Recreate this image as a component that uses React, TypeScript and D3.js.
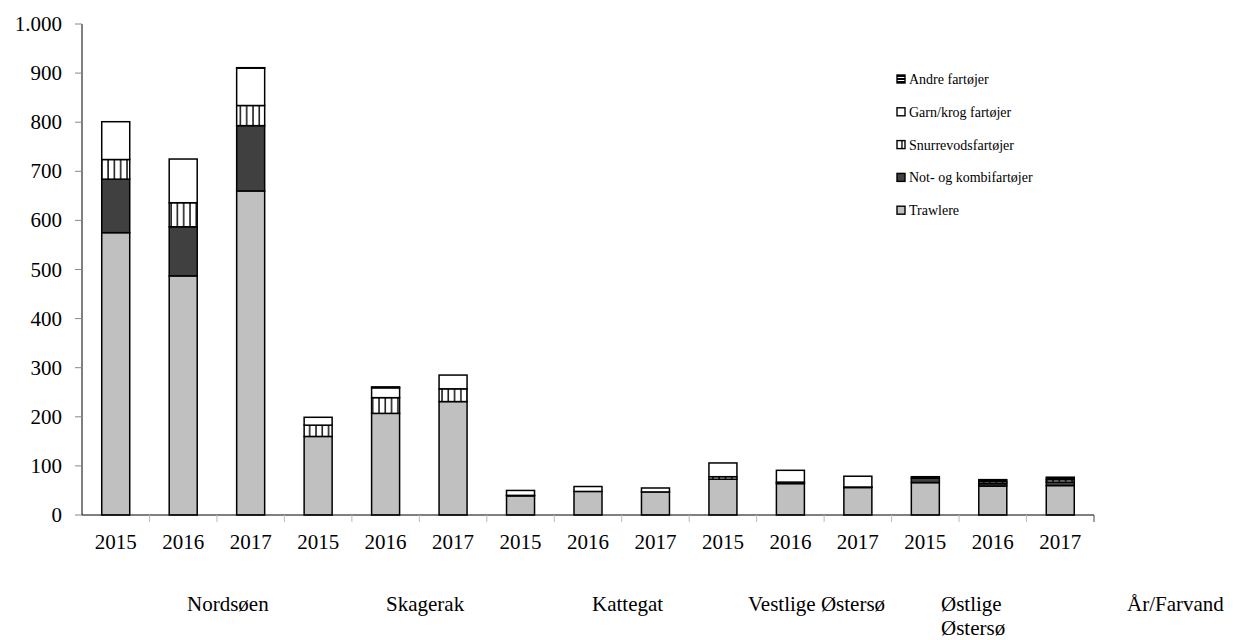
import React from 'react';
import * as d3 from 'd3';

const years = ['2015', '2016', '2017', '2015', '2016', '2017', '2015', '2016', '2017', '2015', '2016', '2017', '2015', '2016', '2017'];
const regions = ['Nordsøen', 'Skagerak', 'Kattegat', 'Vestlige Østersø', 'Østlige Østersø'];

const trawlere = [575, 487, 660, 160, 207, 231, 39, 48, 47, 73, 64, 56, 66, 59, 60];
const notKombi = [109, 100, 133, 0, 0, 0, 0, 0, 0, 0, 3, 1, 9, 5, 7];
const snurrevod = [40, 49, 41, 23, 32, 26, 1, 0, 0, 5, 0, 0, 0, 4, 5];
const garnKrog = [77, 89, 76, 16, 20, 28, 10, 10, 8, 28, 24, 22, 0, 0, 0];
const andre = [0, 0, 1, 0, 2, 0, 0, 0, 0, 0, 0, 0, 3, 4, 5];

const seriesNames = ['Trawlere', 'Not- og kombifartøjer', 'Snurrevodsfartøjer', 'Garn/krog fartøjer', 'Andre fartøjer'];
const yTicks = [0, 100, 200, 300, 400, 500, 600, 700, 800, 900, 1000];

const W = 1235;
const H = 640;
const FONT = "'Liberation Serif', 'Times New Roman', Times, serif";

const fills = ['#c0c0c0', '#404040', 'url(#pat-snurre)', '#ffffff', 'url(#pat-andre)'];

// layout of the region labels below the axis (left edges, px)
const regionLabelX = [187, 386, 592, 748, 941];

export default function App() {
  const x0 = 82;
  const x1 = 1094;
  const y = d3.scaleLinear().domain([0, 1000]).range([515, 24]);
  const idx = years.map((_, i) => i);
  const x = d3.scaleBand<number>()
    .domain(idx)
    .range([x0, x1])
    .paddingInner(0.585)
    .paddingOuter(0.2925);
  const step = (x1 - x0) / years.length;

  const table = idx.map((i) => ({
    i,
    s0: trawlere[i],
    s1: notKombi[i],
    s2: snurrevod[i],
    s3: garnKrog[i],
    s4: andre[i],
  }));
  const stack = d3.stack<any>().keys(['s0', 's1', 's2', 's3', 's4']);
  const layers = stack(table);

  const legendOrder = [4, 3, 2, 1, 0];
  const txt: React.CSSProperties = { fontFamily: FONT };

  return (
    <svg width={W} height={H} style={{ position: 'absolute', left: 0, top: 0, background: '#fff', fontFamily: FONT }}>
      <defs>
        <pattern id="pat-snurre" patternUnits="userSpaceOnUse" width={6.3} height={10}>
          <rect width={6.3} height={10} fill="#fff" />
          <line x1={1} x2={1} y1={0} y2={10} stroke="#000" strokeWidth={1.4} />
        </pattern>
        <pattern id="pat-andre" patternUnits="userSpaceOnUse" width={10} height={3}>
          <rect width={10} height={3} fill="#fff" />
          <rect width={10} height={2} fill="#000" />
        </pattern>
      </defs>

      {/* bars */}
      {layers.map((layer, li) => (
        <g key={li}>
          {layer.map((d, j) => {
            const h = y(d[0]) - y(d[1]);
            if (h <= 0) return null;
            return (
              <rect key={j} x={x(j)} y={y(d[1])} width={x.bandwidth()} height={h}
                fill={fills[li]} stroke="#000" strokeWidth={1.5} />
            );
          })}
        </g>
      ))}

      {/* y axis */}
      <line x1={x0} x2={x0} y1={y(1000)} y2={y(0)} stroke="#000" strokeWidth={1} />
      {yTicks.map((t) => (
        <g key={t}>
          <line x1={x0 - 7} x2={x0} y1={y(t)} y2={y(t)} stroke="#888" strokeWidth={1} />
          <text x={62} y={y(t) + 7} textAnchor="end" fontSize={21} fill="#000" style={txt}>
            {d3.format(',')(t).replace(',', '.')}
          </text>
        </g>
      ))}

      {/* x axis */}
      <line x1={x0} x2={x1} y1={y(0)} y2={y(0)} stroke="#000" strokeWidth={1} />
      {d3.range(1, years.length + 1).map((k) => (
        <line key={k} x1={x0 + k * step} x2={x0 + k * step} y1={y(0)} y2={y(0) + 7}
          stroke={k === years.length ? '#444' : '#bbb'} strokeWidth={1} />
      ))}
      {years.map((yr, i) => (
        <text key={i} x={(x(i) as number) + x.bandwidth() / 2} y={549} textAnchor="middle" fontSize={21} style={txt}>
          {yr}
        </text>
      ))}

      {/* region labels */}
      {regions.map((r, i) => {
        if (r === 'Østlige Østersø') {
          return (
            <text key={r} x={regionLabelX[i]} y={611} fontSize={21} style={txt}>
              <tspan x={regionLabelX[i]}>Østlige</tspan>
              <tspan x={regionLabelX[i]} dy={24}>Østersø</tspan>
            </text>
          );
        }
        return (
          <text key={r} x={regionLabelX[i]} y={611} fontSize={21} style={txt}>{r}</text>
        );
      })}
      <text x={1127} y={611} fontSize={21} style={txt}>År/Farvand</text>

      {/* legend */}
      {legendOrder.map((si, k) => {
        const cy = 79 + k * 32.8;
        return (
          <g key={si}>
            <rect x={897} y={cy - 4} width={8} height={8} fill={fills[si]} stroke="#000" strokeWidth={1.4} />
            <text x={909} y={cy + 5} fontSize={14} style={txt}>{seriesNames[si]}</text>
          </g>
        );
      })}
    </svg>
  );
}
